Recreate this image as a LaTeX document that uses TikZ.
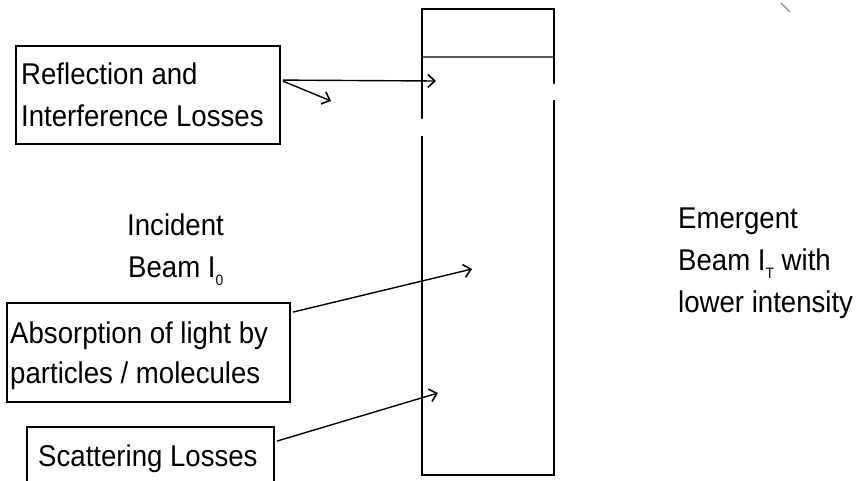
\documentclass[tikz,border=0pt]{standalone}
\usepackage{fontspec}
\setmainfont{Liberation Sans}[FakeStretch=0.92]
\usetikzlibrary{arrows.meta,calc}
\newcommand{\lowsub}[1]{\raisebox{-0.28em}{\fontsize{15}{15}\selectfont #1}}
\begin{document}
\begin{tikzpicture}[x=1pt,y=-1pt,
  lbl/.style={anchor=base west,inner sep=0pt,font=\fontsize{30}{42}\selectfont},
  lossbox/.style={draw,line width=1.8pt,inner sep=0pt,rectangle},
  wall/.style={line width=2.8pt},
  ray/.style={line width=1.4pt,-{Straight Barb[length=7pt,width=13pt,line width=1.6pt]}}]
\useasboundingbox (0,0) rectangle (859,480);
\clip (0,0) rectangle (859,480);
\fill[white] (0,0) rectangle (859,480);

% loss boxes
\node[lossbox,minimum width=264pt,minimum height=98pt] (b1) at (148,95) {};
\node[lossbox,minimum width=283pt,minimum height=99pt] (b2) at (148.5,352.5) {};
\node[lossbox,minimum width=247pt,minimum height=70pt] (b3) at (150.5,462) {};

% texts
\node[lbl] (t1a) at (21,84) {Reflection and};
\node[lbl] (t1b) at (21,126) {Interference Losses};
\node[lbl] (t2a) at (10,343) {Absorption of light by};
\node[lbl] (t2b) at (10,383) {particles / molecules};
\node[lbl] (t3) at (38,466) {Scattering Losses};
\node[lbl] (inc1) at (127,235) {Incident};
\node[lbl] (inc2) at (128,277) {Beam I\lowsub{0}};
\node[lbl] (em1) at (678,228) {Emergent};
\node[lbl] (em2) at (678,270) {Beam I\lowsub{T} with};
\node[lbl] (em3) at (678,312) {lower intensity};

% cuvette corners
\coordinate (ctl) at (422,9);
\coordinate (ctr) at (554,9);
\coordinate (cbl) at (422,475);
\coordinate (cbr) at (554,475);
\draw[wall,line cap=round] (ctl |- 0,118) -- (ctl) -- (ctr) -- (ctr |- 0,83);
\draw[wall] (ctr |- 0,100) -- (cbr) -- (cbl) -- (cbl |- 0,136);
\draw[line width=1.2pt,black!65] (423,57) -- (553,57);

% arrow end points
\coordinate (e1) at (436,81);
\coordinate (e1b) at (331,101);
\coordinate (e2) at (472,269);
\coordinate (e3) at (438,393);

\draw[ray] ($(b1.north east)+(2,35)$) -- (e1);
\draw[ray] ($(b1.north east)+(2,36)$) -- (e1b);
\draw[ray] ($(b2.north east)+(2,10)$) -- (e2);
\draw[ray] ($(b3.north east)+(2,15)$) -- (e3);

% scan smudge
\draw[line width=1.2pt,black!45,line cap=round] (781,3) -- (790,12);
\end{tikzpicture}
\end{document}
